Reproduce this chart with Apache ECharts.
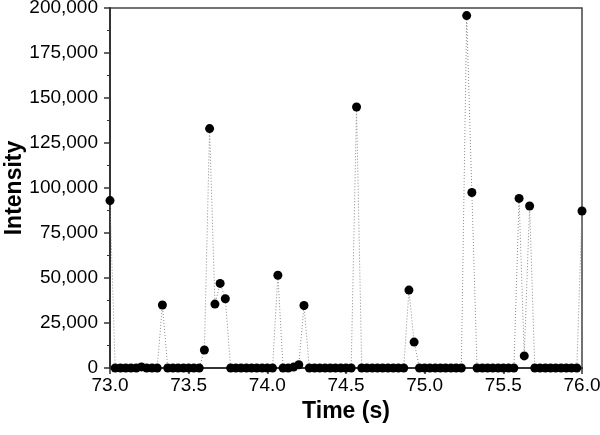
<!DOCTYPE html>
<html>
<head>
<meta charset="utf-8">
<script src="https://cdn.jsdelivr.net/npm/echarts@6/dist/echarts.min.js"></script>
<style>
  html, body { margin: 0; padding: 0; background: #fff; }
  #chart { width: 600px; height: 435px; }
</style>
</head>
<body>
<div id="chart"></div>
<script>
// sample times (s), ~30 Hz
var times = [
  73.000, 73.033, 73.067, 73.100, 73.133, 73.167, 73.200, 73.233, 73.267, 73.300,
  73.333, 73.367, 73.400, 73.433, 73.467, 73.500, 73.533, 73.567, 73.600, 73.633,
  73.667, 73.700, 73.733, 73.767, 73.800, 73.833, 73.867, 73.900, 73.933, 73.967,
  74.000, 74.033, 74.067, 74.100, 74.133, 74.167, 74.200, 74.233, 74.267, 74.300,
  74.333, 74.367, 74.400, 74.433, 74.467, 74.500, 74.533, 74.567, 74.600, 74.633,
  74.667, 74.700, 74.733, 74.767, 74.800, 74.833, 74.867, 74.900, 74.933, 74.967,
  75.000, 75.033, 75.067, 75.100, 75.133, 75.167, 75.200, 75.233, 75.267, 75.300,
  75.333, 75.367, 75.400, 75.433, 75.467, 75.500, 75.533, 75.567, 75.600, 75.633,
  75.667, 75.700, 75.733, 75.767, 75.800, 75.833, 75.867, 75.900, 75.933, 75.967,
  76.000
];

var intensity = [
  93000, 0, 0, 0, 0, 0, 600, 0, 0, 0,
  35000, 0, 0, 0, 0, 0, 0, 0, 10000, 133000,
  35500, 47000, 38500, 0, 0, 0, 0, 0, 0, 0,
  0, 0, 51500, 0, 0, 500, 1800, 34700, 0, 0,
  0, 0, 0, 0, 0, 0, 0, 145000, 0, 0,
  0, 0, 0, 0, 0, 0, 0, 43300, 14400, 0,
  0, 0, 0, 0, 0, 0, 0, 0, 195800, 97500,
  0, 0, 0, 0, 0, 0, 0, 0, 94200, 6700,
  90000, 0, 0, 0, 0, 0, 0, 0, 0, 0,
  87200
];

var xTicks = [73.0, 73.5, 74.0, 74.5, 75.0, 75.5, 76.0];
var yTicks = [0, 25000, 50000, 75000, 100000, 125000, 150000, 175000, 200000];

var myChart = echarts.init(document.getElementById('chart'));

var seriesData = [];
for (var i = 0; i < times.length; i++) {
  seriesData.push([times[i], intensity[i]]);
}

var axisColor = '#333';
var fontFam = '"Liberation Sans", Arial, sans-serif';

var option = {
  animation: false,
  grid: {
    left: 110,
    right: 18,
    top: 8,
    bottom: 67,
    outerBoundsMode: 'none',
    containLabel: false,
    show: true,
    borderColor: '#444',
    borderWidth: 1.5
  },
  xAxis: {
    type: 'value',
    min: xTicks[0],
    max: xTicks[xTicks.length - 1],
    interval: 0.5,
    name: 'Time (s)',
    nameLocation: 'middle',
    nameGap: 32,
    nameMoveOverlap: false,
    nameTextStyle: { fontSize: 23, fontWeight: 'bold', color: '#000', fontFamily: fontFam },
    axisLine: { onZero: false, lineStyle: { color: axisColor, width: 2 } },
    axisTick: { length: 6, lineStyle: { color: axisColor, width: 1.5 } },
    minorTick: { show: true, splitNumber: 2, length: 3, lineStyle: { color: axisColor } },
    axisLabel: {
      fontSize: 19, color: '#000', fontFamily: fontFam, margin: 8,
      formatter: function (v) { return v.toFixed(1); }
    },
    splitLine: { show: false }
  },
  yAxis: {
    type: 'value',
    min: yTicks[0],
    max: yTicks[yTicks.length - 1],
    interval: 25000,
    name: 'Intensity',
    nameLocation: 'middle',
    nameRotate: 90,
    nameGap: 84,
    nameMoveOverlap: false,
    nameTextStyle: { fontSize: 23, fontWeight: 'bold', color: '#000', fontFamily: fontFam },
    axisLine: { show: true, lineStyle: { color: axisColor, width: 2 } },
    axisTick: { length: 6, lineStyle: { color: axisColor, width: 1.5 } },
    minorTick: { show: true, splitNumber: 2, length: 3, lineStyle: { color: axisColor } },
    axisLabel: {
      fontSize: 19, color: '#000', fontFamily: fontFam, margin: 12,
      formatter: function (v) { return v.toLocaleString('en-US'); }
    },
    splitLine: { show: false }
  },
  series: [
    {
      type: 'line',
      data: seriesData,
      symbol: 'circle',
      symbolSize: 9,
      itemStyle: { color: '#000' },
      lineStyle: { color: '#888', width: 1, type: [1, 2] },
      clip: false
    }
  ]
};

myChart.setOption(option);
window.addEventListener('resize', myChart.resize);
</script>
</body>
</html>
